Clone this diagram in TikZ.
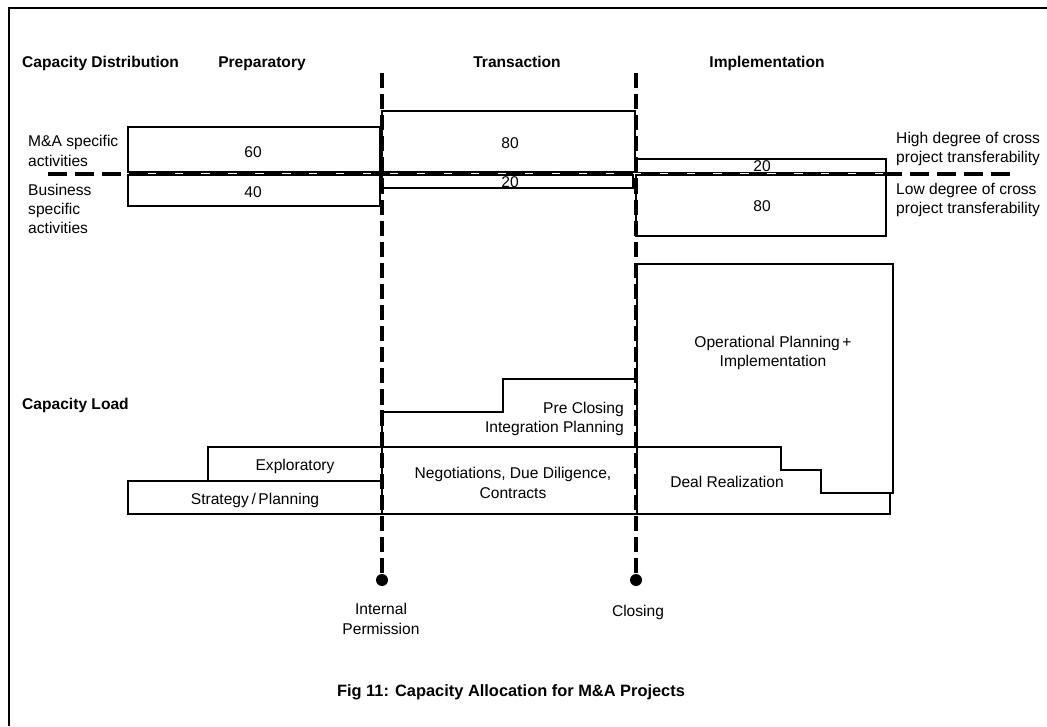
\documentclass[tikz,border=0pt]{standalone}
\usepackage{fontspec}
\setmainfont{Liberation Sans}
\tikzset{
  txt/.style={font=\fontsize{13.3}{16.5}\selectfont, inner sep=0pt, align=center},
  head/.style={font=\fontsize{13.3}{16}\selectfont\bfseries, inner sep=0pt, anchor=base},
  box/.style={draw, line width=1.5pt},
  phase/.style={line width=3pt, dash pattern=on 13pt off 5pt},
  split/.style={line width=2.6pt, dash pattern=on 16pt off 7pt},
  milestone/.style={circle, fill, inner sep=0pt, minimum size=0.36cm}
}
\begin{document}
\begin{tikzpicture}[x=0.03cm, y=-0.03cm]
  \useasboundingbox (0,0) rectangle (1047,726);
  \draw[line width=1.5pt] (9,726) -- (9,8) -- (1047,8);

  \node[head, anchor=base west] (cd) at (22,67) {Capacity Distribution};
  \node[head] (prep) at (262,67) {Preparatory};
  \node[head] (trans) at (517,67) {Transaction};
  \node[head] (impl) at (767,67) {Implementation};
  \node[head, anchor=base west] (cl) at (22,409) {Capacity Load};

  \node[txt, align=left, anchor=west] (ma) at (28,151) {M\&A specific\\activities};
  \node[txt, align=left, anchor=west] (bs) at (28,209) {Business\\specific\\activities};
  \node[txt, align=left, anchor=west] (hi) at (896,149) {High degree of cross\\project transferability};
  \node[txt, align=left, anchor=west] (lo) at (896,200) {Low degree of cross\\project transferability};

  \coordinate (splitL) at (48,174);
  \coordinate (splitR) at (1017,174);
  \draw[split] (splitL) -- (splitR);

  \begin{scope}[box]
    \draw (128,127) rectangle (380,172);
    \draw (128,175) rectangle (380,206);
    \draw (382,111) rectangle (635,172);
    \draw (382,175) rectangle (633,188);
    \draw (636,159) rectangle (886,172.5);
    \draw (636,175) rectangle (886,236);

    \draw (208,447) rectangle (382,481);
    \draw (128,481) rectangle (382,514);
    \draw (382,447) rectangle (637,514);
    \draw (382,447) -- (382,412) -- (503,412) -- (503,379) -- (637,379) -- (637,447);
    \draw (637,447) -- (637,264) -- (893,264) -- (893,493) -- (821,493);
    \draw (637,447) -- (781,447) -- (781,470) -- (821,470) -- (821,493)
      -- (890,493) -- (890,514) -- (637,514);
  \end{scope}

  \node[txt] (p60) at (253,152) {60};
  \node[txt] (p40) at (253,192) {40};
  \node[txt] (t80) at (510,143) {80};
  \node[txt] (t20) at (510,182) {20};
  \node[txt] (i20) at (762,166) {20};
  \node[txt] (i80) at (762,206) {80};

  \node[txt] (expl) at (295,466) {Exploratory};
  \node[txt] (strat) at (255,500) {Strategy\,/\,Planning};
  \node[txt, align=right, anchor=east] (pre) at (624,419) {Pre Closing\\Integration Planning};
  \node[txt] (nego) at (513,483) {Negotiations, Due Diligence,\\Contracts};
  \node[txt] (oper) at (773,353) {Operational Planning\,+\\Implementation};
  \node[txt] (deal) at (727,482) {Deal Realization};

  \coordinate (ipT) at (382,73);
  \coordinate (clsT) at (636,73);
  \node[milestone] (ip) at (382,580) {};
  \node[milestone] (cls) at (636,580) {};
  \draw[phase] (ipT) -- (ip);
  \draw[phase] (clsT) -- (cls);
  \node[txt] (ipl) at (381,619) {Internal\\Permission};
  \node[txt] (clsl) at (638,612) {Closing};

  \node[font=\fontsize{14}{16}\selectfont\bfseries, inner sep=0pt] (cap) at (511,692)
    {Fig 11: Capacity Allocation for M\&A Projects};
\end{tikzpicture}
\end{document}
